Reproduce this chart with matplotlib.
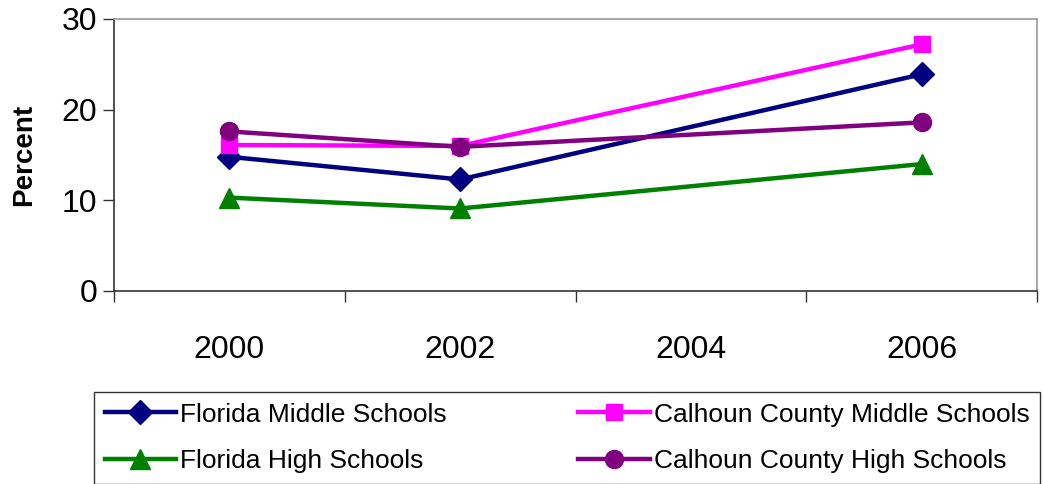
import numpy as np
import matplotlib
matplotlib.use('Agg')
import matplotlib.pyplot as plt

plt.rcParams['font.family'] = ['Liberation Sans', 'DejaVu Sans']

years = ['2000', '2002', '2004', '2006']
fl_middle = [14.8, 12.3, None, 23.9]
cc_middle = [16.1, 16.0, None, 27.2]
fl_high = [10.3, 9.1, None, 14.0]
cc_high = [17.6, 15.9, None, 18.6]

series = [
    ('Florida Middle Schools', fl_middle, '#000080', 'D', 12),
    ('Calhoun County Middle Schools', cc_middle, '#FF00FF', 's', 12),
    ('Florida High Schools', fl_high, '#008000', '^', 14),
    ('Calhoun County High Schools', cc_high, '#800080', 'o', 13),
]

fig = plt.figure(figsize=(10.44, 4.84), dpi=100)
ax = fig.add_axes([114/1044, 1-291/484, (1037-114)/1044, (291-19)/484])

xpos = np.arange(len(years))
for name, vals, col, mk, ms in series:
    xs = [x for x, v in zip(xpos, vals) if v is not None]
    ys = [v for v in vals if v is not None]
    ax.plot(xs, ys, color=col, lw=3.2, marker=mk, ms=ms, label=name)

ax.set_xlim(-0.5, len(years) - 0.5)
ax.set_ylim(0, 30)
ax.set_yticks([0, 10, 20, 30])
ax.tick_params(axis='y', labelsize=23, length=8, width=1, pad=4, color='#333333')

ax.set_xticks(np.arange(len(years) + 1) - 0.5)
ax.set_xticklabels([])
ax.set_xticks(xpos, minor=True)
ax.set_xticklabels(years, minor=True)
ax.tick_params(axis='x', which='major', length=8, width=1, color='#333333')
ax.tick_params(axis='x', which='minor', length=0, labelsize=23, pad=32)

ax.set_ylabel('Percent', fontsize=20, fontweight='bold', labelpad=18)

for s in ['left', 'bottom']:
    ax.spines[s].set_color('#333333')
    ax.spines[s].set_linewidth(1.2)
for s in ['top', 'right']:
    ax.spines[s].set_color('#999999')
    ax.spines[s].set_linewidth(1.2)

h, l = ax.get_legend_handles_labels()
order = [0, 2, 1, 3]
leg = fig.legend([h[i] for i in order], [l[i] for i in order], ncol=2,
                 loc='upper left', bbox_to_anchor=(94/1044, 1-392/484),
                 fontsize=19, frameon=True, fancybox=False, edgecolor='black',
                 handlelength=2.7, handletextpad=0.15, columnspacing=5.0,
                 borderpad=0.4, labelspacing=0.85, borderaxespad=0)
leg.get_frame().set_linewidth(1)

fig.savefig('out.png', dpi=100)
